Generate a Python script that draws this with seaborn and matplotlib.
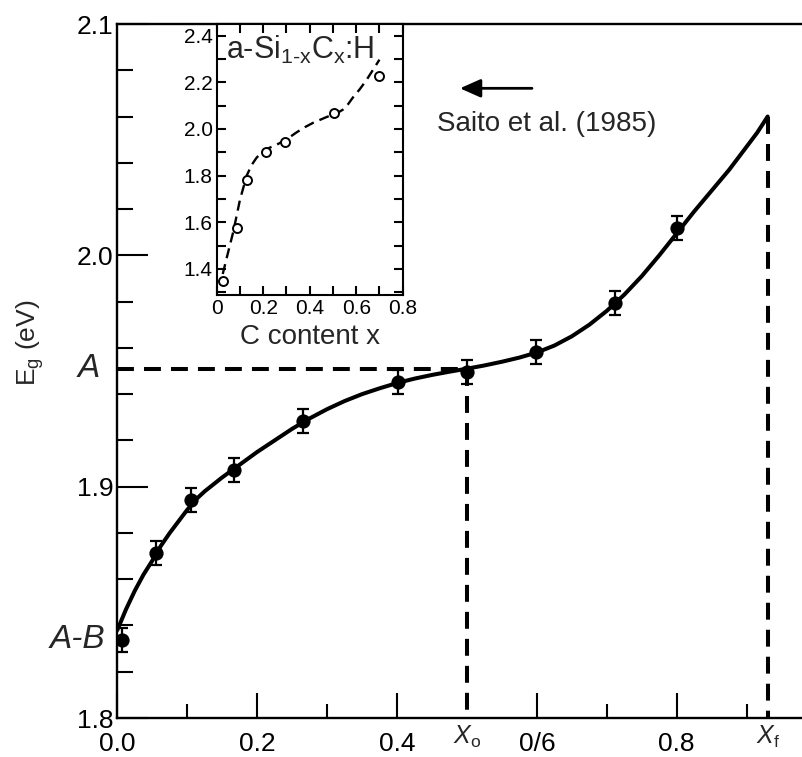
import matplotlib
matplotlib.use("Agg")
import matplotlib.pyplot as plt
import numpy as np
import pandas as pd
import seaborn as sns
from matplotlib.ticker import FixedLocator, FixedFormatter

# ---- measured optical gap vs carbon content ----
carbon_x = [0.007, 0.055, 0.106, 0.167, 0.266, 0.402, 0.500, 0.599, 0.712, 0.801]
gap_ev = [1.8337, 1.8712, 1.8943, 1.9072, 1.9285, 1.9454, 1.9497, 1.9584, 1.9793, 2.0117]
gap_err = [0.0052] * len(carbon_x)

# ---- fitted curve through the measurements ----
fit_x = [0.000, 0.0125, 0.025, 0.0375, 0.050, 0.0625, 0.075, 0.0875, 0.100, 0.1125,
         0.125, 0.1375, 0.150, 0.175, 0.200, 0.225, 0.250, 0.275, 0.300, 0.325,
         0.350, 0.375, 0.400, 0.425, 0.450, 0.475, 0.500, 0.525, 0.550, 0.575,
         0.600, 0.625, 0.650, 0.675, 0.700, 0.725, 0.750, 0.775, 0.800, 0.825,
         0.850, 0.875, 0.900, 0.915, 0.930]
fit_y = [1.838, 1.847, 1.855, 1.862, 1.868, 1.8745, 1.880, 1.885, 1.890, 1.8945,
         1.898, 1.901, 1.904, 1.9095, 1.915, 1.920, 1.925, 1.9295, 1.9335, 1.937,
         1.940, 1.9425, 1.9448, 1.9467, 1.9483, 1.9497, 1.951, 1.9524, 1.954, 1.9558,
         1.958, 1.961, 1.965, 1.970, 1.976, 1.983, 1.991, 2.000, 2.0095, 2.019,
         2.028, 2.037, 2.047, 2.053, 2.060]

# ---- reference levels ----
level_a = 1.951
level_ab = 1.834
x_o = 0.50
x_f = 0.93
y_f = 2.060

# ---- inset: Saito et al. (1985) ----
saito_x = [0.028, 0.088, 0.129, 0.211, 0.294, 0.503, 0.697]
saito_eg = [1.350, 1.574, 1.782, 1.903, 1.945, 2.067, 2.229]
saito_fit_x = [0.026, 0.043, 0.071, 0.100, 0.129, 0.150, 0.171, 0.190, 0.210, 0.233,
               0.257, 0.300, 0.343, 0.380, 0.414, 0.470, 0.520, 0.543, 0.565,
               0.586, 0.615, 0.643, 0.670, 0.700]
saito_fit_y = [1.378, 1.447, 1.558, 1.696, 1.800, 1.845, 1.876, 1.896, 1.911, 1.922,
               1.932, 1.955, 1.985, 2.008, 2.026, 2.050, 2.069, 2.083, 2.106,
               2.135, 2.170, 2.208, 2.250, 2.297]

main_xticks = [0.0, 0.2, 0.4, 0.6, 0.8]
main_xticklabels = ["0.0", "0.2", "0.4", "0/6", "0.8"]
main_yticks = [1.8, 1.9, 2.0, 2.1]
main_yticklabels = ["1.8", "1.9", "2.0", "2.1"]
inset_xticks = [0.0, 0.2, 0.4, 0.6, 0.8]
inset_xticklabels = ["0", "0.2", "0.4", "0.6", "0.8"]
inset_yticks = [1.4, 1.6, 1.8, 2.0, 2.2, 2.4]
inset_yticklabels = ["1.4", "1.6", "1.8", "2.0", "2.2", "2.4"]

sns.set_theme(style="ticks")
plt.rcParams["font.family"] = ["Liberation Sans", "DejaVu Sans"]
plt.rcParams["mathtext.fontset"] = "custom"
plt.rcParams["mathtext.rm"] = "Liberation Sans"
plt.rcParams["mathtext.it"] = "Liberation Sans:italic"
plt.rcParams["mathtext.bf"] = "Liberation Sans:bold"

W, H = 802, 757
fig = plt.figure(figsize=(W / 100, H / 100), dpi=100)
fig.patch.set_facecolor("white")

# main axes in pixel geometry
L, R, T, B = 117.3, 802, 24, 718
ax = fig.add_axes([L / W, 1 - B / H, (R - L) / W, (B - T) / H])
ax.set_facecolor("white")
ax.set_xlim(0, (R - L) / 699.3)
ax.set_ylim(1.8, 2.1)

for s in ["left", "bottom", "top"]:
    ax.spines[s].set_linewidth(1.7)
    ax.spines[s].set_color("black")
ax.spines["right"].set_visible(False)

ax.xaxis.set_major_locator(FixedLocator(main_xticks))
ax.xaxis.set_major_formatter(FixedFormatter(main_xticklabels))
ax.xaxis.set_minor_locator(FixedLocator([0.1, 0.3, 0.7, 0.9]))
ax.yaxis.set_major_locator(FixedLocator(main_yticks))
ax.yaxis.set_major_formatter(FixedFormatter(main_yticklabels))
ax.yaxis.set_minor_locator(FixedLocator(np.arange(1.82, 2.1, 0.02)))
ax.tick_params(axis="x", which="major", direction="in", length=18, width=1.5,
               labelsize=19, pad=10, color="black", labelcolor="black")
ax.tick_params(axis="x", which="minor", direction="in", length=10, width=1.5, color="black")
ax.tick_params(axis="y", which="major", direction="in", length=22, width=1.5,
               labelsize=19, pad=3, color="black", labelcolor="black")
ax.tick_params(axis="y", which="minor", direction="in", length=11.5, width=1.5, color="black")
ax.tick_params(top=False, right=False, which="both")

# reference dashed lines
dash = dict(color="black", lw=2.9, dashes=(4.2, 2.5), dash_capstyle="butt")
ax.plot([0, x_o], [level_a, level_a], **dash)
ax.plot([x_o, x_o], [level_a, 1.8], **dash)
ax.plot([x_f, x_f], [y_f, 1.8], **dash)

# fitted curve
fit_df = pd.DataFrame({"x": fit_x, "eg": fit_y})
sns.lineplot(data=fit_df, x="x", y="eg", ax=ax, color="black", lw=2.9,
             sort=False, estimator=None)
ax.lines[-1].set_solid_joinstyle("round")

# measurements with error bars
ax.errorbar(carbon_x, gap_ev, yerr=gap_err, fmt="none", ecolor="black",
            elinewidth=1.6, capsize=4.5, capthick=1.6, zorder=4)
meas_df = pd.DataFrame({"x": carbon_x, "eg": gap_ev})
sns.scatterplot(data=meas_df, x="x", y="eg", ax=ax, color="black", s=105,
                edgecolor="black", linewidth=0, zorder=5)

ax.set_xlabel("")
ax.set_ylabel("")

# special axis labels
xform = ax.get_yaxis_transform()
ax.text(-0.026, level_a, "A", transform=xform, ha="right", va="center",
        fontsize=24, style="italic")
ax.text(-0.018, level_ab, "A-B", transform=xform, ha="right", va="center",
        fontsize=24, style="italic")
xb = ax.get_xaxis_transform()
ax.text(x_o, -0.027, r"$X_{\mathrm{o}}$", transform=xb, ha="center", va="center",
        fontsize=18)
ax.text(x_f, -0.027, r"$X_{\mathrm{f}}$", transform=xb, ha="center", va="center",
        fontsize=18)
fig.text(30 / W, 1 - 343 / H, r"E$_\mathrm{g}$ (eV)", rotation=90,
         ha="center", va="center", fontsize=19)

# annotation: Saito et al.
ax.annotate("", xy=(0.49, 2.0722), xytext=(0.593, 2.0722),
            arrowprops=dict(arrowstyle="-|>,head_length=0.9,head_width=0.4",
                            mutation_scale=14, lw=2, color="black",
                            shrinkA=0, shrinkB=0))
ax.text(0.4575, 2.0568, "Saito et al. (1985)", ha="left", va="center", fontsize=20)

# ---- inset ----
iL, iR, iT, iB = 216.7, 402.7, 24, 295
ax_in = fig.add_axes([iL / W, 1 - iB / H, (iR - iL) / W, (iB - iT) / H])
ax_in.set_facecolor("white")
ax_in.set_xlim(0, 0.8)
ax_in.set_ylim(1.288, 2.45)
for s in ax_in.spines.values():
    s.set_linewidth(1.5)
    s.set_color("black")
ax_in.xaxis.set_major_locator(FixedLocator(inset_xticks))
ax_in.xaxis.set_major_formatter(FixedFormatter(inset_xticklabels))
ax_in.xaxis.set_minor_locator(FixedLocator([0.1, 0.3, 0.5, 0.7]))
ax_in.yaxis.set_major_locator(FixedLocator(inset_yticks))
ax_in.yaxis.set_major_formatter(FixedFormatter(inset_yticklabels))
ax_in.yaxis.set_minor_locator(FixedLocator([1.3, 1.5, 1.7, 1.9, 2.1, 2.3]))
ax_in.tick_params(which="both", direction="in", length=6.5, width=1.5,
                  top=True, right=True, labelsize=15, pad=3,
                  color="black", labelcolor="black")

saito_fit_df = pd.DataFrame({"x": saito_fit_x, "eg": saito_fit_y})
sns.lineplot(data=saito_fit_df, x="x", y="eg", ax=ax_in, color="black", lw=1.7,
             sort=False, estimator=None)
ax_in.lines[-1].set_dashes((4.3, 2.6))
saito_df = pd.DataFrame({"x": saito_x, "eg": saito_eg})
sns.scatterplot(data=saito_df, x="x", y="eg", ax=ax_in, s=42, facecolor="white",
                edgecolor="black", linewidth=1.4, zorder=5)
ax_in.set_ylabel("")
ax_in.set_xlabel("C content x", fontsize=20, labelpad=4)
ax_in.text(0.05, 0.965, r"a-Si$_{\mathrm{1\text{-}x}}$C$_{\mathrm{x}}$:H",
           transform=ax_in.transAxes, ha="left", va="top", fontsize=22)

fig.savefig("out.png", dpi=100, facecolor="white")
